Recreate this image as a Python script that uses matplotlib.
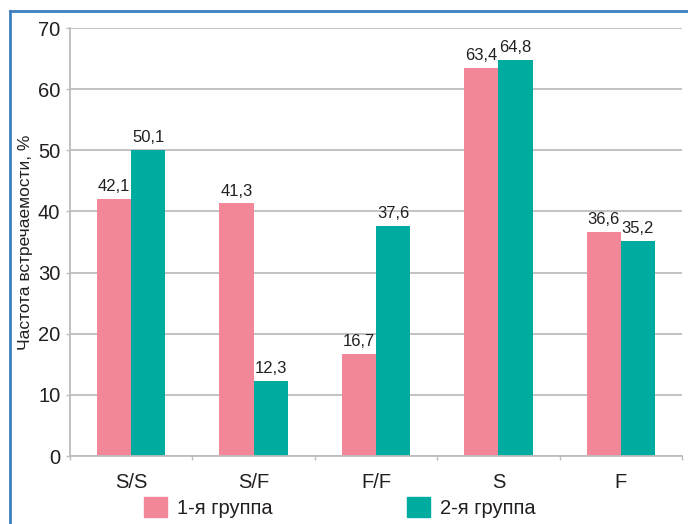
import matplotlib
matplotlib.use("Agg")
import matplotlib.pyplot as plt
from matplotlib.lines import Line2D
from matplotlib.patches import Patch
import numpy as np

# genotype / allele frequencies, %
categories = ["S/S", "S/F", "F/F", "S", "F"]
group1 = [42.1, 41.3, 16.7, 63.4, 36.6]
group2 = [50.1, 12.3, 37.6, 64.8, 35.2]
series_names = ["1-я группа", "2-я группа"]
y_ticks = [0, 10, 20, 30, 40, 50, 60, 70]

pink = "#F2879A"
teal = "#00AC9F"
grid_col = "#BDBDBD"
text_col = "#231F20"

plt.rcParams["font.family"] = ["Liberation Sans", "DejaVu Sans"]

fig = plt.figure(figsize=(6.88, 5.24), dpi=100)
ax = fig.add_axes([70 / 688, 1 - 456 / 524, 612 / 688, 428 / 524])

x = np.arange(len(categories))
w = 0.28
b1 = ax.bar(x - w / 2, group1, w, color=pink, zorder=2)
b2 = ax.bar(x + w / 2, group2, w, color=teal, zorder=2)

for bars, vals in [(b1, group1), (b2, group2)]:
    for rect, v in zip(bars, vals):
        ax.annotate(f"{v:.1f}".replace(".", ","),
                    (rect.get_x() + rect.get_width() / 2, v),
                    xytext=(0, 3.5), textcoords="offset points",
                    ha="center", va="bottom", fontsize=12, color=text_col)

ax.set_xlim(-0.5, len(categories) - 0.5)
ax.set_ylim(0, 70)
ax.set_yticks(y_ticks)
ax.set_xticks(x)
ax.set_xticklabels(categories)
ax.set_xticks(np.arange(len(categories) + 1) - 0.5, minor=True)
ax.tick_params(axis="x", which="major", length=0, pad=12, labelsize=14.5, labelcolor=text_col)
ax.tick_params(axis="x", which="minor", length=3, width=1, color=grid_col)
ax.tick_params(axis="y", length=3, width=1, color=grid_col, pad=4, labelsize=14.5, labelcolor=text_col)

ax.yaxis.grid(True, color=grid_col, linewidth=1.3, zorder=0)
ax.set_axisbelow(True)
for s in ["top", "right"]:
    ax.spines[s].set_visible(False)
for s in ["left", "bottom"]:
    ax.spines[s].set_color(grid_col)
    ax.spines[s].set_linewidth(1.3)

ax.set_ylabel("Частота встречаемости, %", fontsize=12.5, color=text_col)
ax.yaxis.set_label_coords(-37 / 612, 0.5)

handles = [Patch(color=pink), Patch(color=teal)]
fig.legend(handles, series_names, loc="center left",
           bbox_to_anchor=(144 / 688, 1 - 507.5 / 524), ncol=2, frameon=False,
           fontsize=14.5, handlelength=1.15, handleheight=1.15, handletextpad=0.5,
           columnspacing=6.65, borderpad=0, borderaxespad=0, labelcolor=text_col)

# blue frame along the top and left edges
frame = "#3D7EBF"
fig.add_artist(Line2D([10 / 688, 10 / 688], [0, 1 - 11 / 524], color=frame, lw=2))
fig.add_artist(Line2D([10 / 688, 1], [1 - 11 / 524, 1 - 11 / 524], color=frame, lw=2))

fig.savefig("out.png", dpi=100)
